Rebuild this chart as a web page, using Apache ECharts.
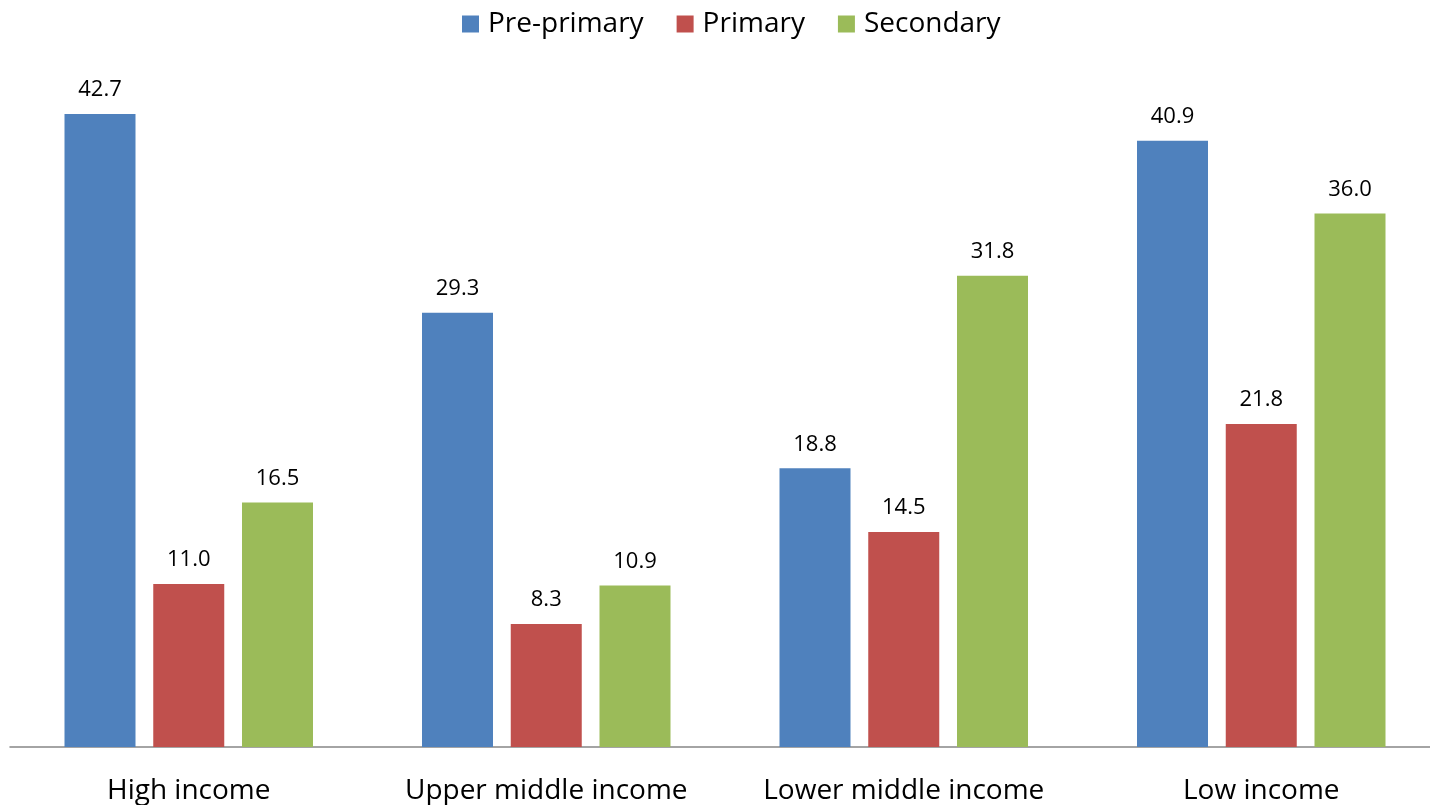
<!DOCTYPE html>
<html><head><meta charset="utf-8">
<script src="https://cdn.jsdelivr.net/npm/echarts@6/dist/echarts.min.js"></script>
<style>html,body{margin:0;padding:0;background:#fff;overflow:hidden}#c{width:1440px;height:805px}</style>
</head><body><div id="c"></div>
<script>
const categories = ['High income', 'Upper middle income', 'Lower middle income', 'Low income'];
const prePrimary = [42.7, 29.3, 18.8, 40.9];
const primary = [11.0, 8.3, 14.5, 21.8];
const secondary = [16.5, 10.9, 31.8, 36.0];
const seriesNames = ['Pre-primary', 'Primary', 'Secondary'];
const colors = ['#4F81BD', '#C0504D', '#9BBB59'];
const font = '"Open Sans", "Liberation Sans", sans-serif';
const chart = echarts.init(document.getElementById('c'));
const mk = (name, data, color) => ({
  name, type: 'bar', data, barWidth: 71, barGap: '25%',
  itemStyle: { color },
  label: { show: true, position: 'top', distance: 13, color: '#000', fontSize: 22, fontFamily: font,
    formatter: p => p.value.toFixed(1) }
});
chart.setOption({
  animation: false,
  textStyle: { fontFamily: font },
  legend: { top: 5, left: 457, itemWidth: 17, itemHeight: 17, itemGap: 33,
    textStyle: { fontSize: 28, color: '#000', fontFamily: font, padding: [0, 0, 0, 4] },
    data: seriesNames.map(n => ({ name: n, icon: 'rect' })) },
  grid: { left: 10, right: 0, top: 80, bottom: 57 },
  xAxis: { type: 'category', data: categories,
    axisLine: { lineStyle: { color: '#868686', width: 1.5 } },
    axisTick: { show: false },
    axisLabel: { interval: 0, fontSize: 28, color: '#000', margin: 30, fontFamily: font } },
  yAxis: { type: 'value', min: 0, max: 45, show: false, splitLine: { show: false } },
  series: [mk(seriesNames[0], prePrimary, colors[0]), mk(seriesNames[1], primary, colors[1]), mk(seriesNames[2], secondary, colors[2])]
});
</script></body></html>
